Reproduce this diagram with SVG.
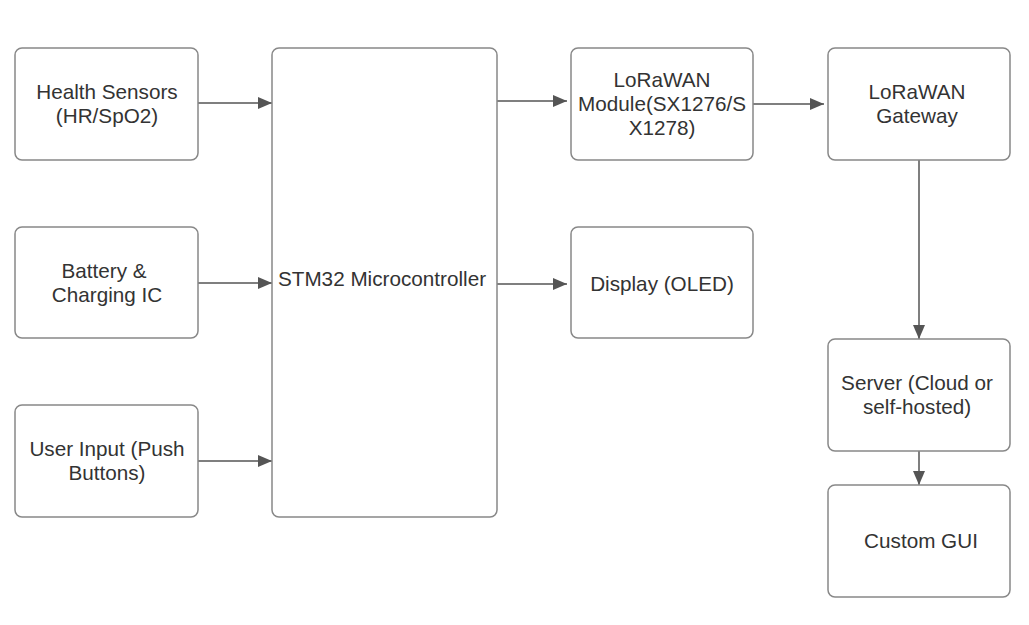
<svg xmlns="http://www.w3.org/2000/svg" width="1029" height="625" viewBox="0 0 1029 625">
<style>
.box{fill:#fff;stroke:#888;stroke-width:1.5}
.t{font-family:"Liberation Sans",Arial,sans-serif;font-size:20.7px;fill:#333;text-anchor:middle}
.c{stroke:#555;stroke-width:1.5;fill:none}
</style>
<defs>
<marker id="ah" viewBox="0 0 14 12" refX="14" refY="6" markerWidth="14" markerHeight="12" markerUnits="userSpaceOnUse" orient="auto">
<path d="M0,0 L14,6 L0,12 Z" fill="#555"/>
</marker>
</defs>
<rect width="1029" height="625" fill="#fff"/>
<g id="connectors">
<line class="c" x1="198" y1="103" x2="272" y2="103" marker-end="url(#ah)"/>
<line class="c" x1="198" y1="283" x2="272" y2="283" marker-end="url(#ah)"/>
<line class="c" x1="198" y1="461" x2="272" y2="461" marker-end="url(#ah)"/>
<line class="c" x1="497" y1="101" x2="567" y2="101" marker-end="url(#ah)"/>
<line class="c" x1="497" y1="284" x2="567" y2="284" marker-end="url(#ah)"/>
<line class="c" x1="753" y1="104" x2="824" y2="104" marker-end="url(#ah)"/>
<line class="c" x1="919" y1="160" x2="919" y2="339" marker-end="url(#ah)"/>
<line class="c" x1="919" y1="451" x2="919" y2="485" marker-end="url(#ah)"/>
</g>
<g id="health">
<rect class="box" x="15" y="48" width="183" height="112" rx="7"/>
<text class="t" x="107" y="99">Health Sensors</text>
<text class="t" x="107" y="123">(HR/SpO2)</text>
</g>
<g id="battery">
<rect class="box" x="15" y="227" width="183" height="111" rx="7"/>
<text class="t" x="104" y="278">Battery &amp;</text>
<text class="t" x="107" y="302">Charging IC</text>
</g>
<g id="userinput">
<rect class="box" x="15" y="405" width="183" height="112" rx="7"/>
<text class="t" x="107" y="456">User Input (Push</text>
<text class="t" x="107" y="480">Buttons)</text>
</g>
<g id="stm32">
<rect class="box" x="272" y="48" width="225" height="469" rx="7"/>
<text class="t" x="382" y="286">STM32 Microcontroller</text>
</g>
<g id="lora">
<rect class="box" x="571" y="48" width="182" height="112" rx="7"/>
<text class="t" x="662" y="87">LoRaWAN</text>
<text class="t" x="662" y="111">Module(SX1276/S</text>
<text class="t" x="662" y="135">X1278)</text>
</g>
<g id="display">
<rect class="box" x="571" y="227" width="182" height="111" rx="7"/>
<text class="t" x="662" y="291">Display (OLED)</text>
</g>
<g id="gateway">
<rect class="box" x="828" y="48" width="182" height="112" rx="7"/>
<text class="t" x="917" y="99">LoRaWAN</text>
<text class="t" x="917" y="123">Gateway</text>
</g>
<g id="server">
<rect class="box" x="828" y="339" width="182" height="112" rx="7"/>
<text class="t" x="917" y="390">Server (Cloud or</text>
<text class="t" x="917" y="414">self-hosted)</text>
</g>
<g id="gui">
<rect class="box" x="828" y="485" width="182" height="112" rx="7"/>
<text class="t" x="921" y="548">Custom GUI</text>
</g>
</svg>
